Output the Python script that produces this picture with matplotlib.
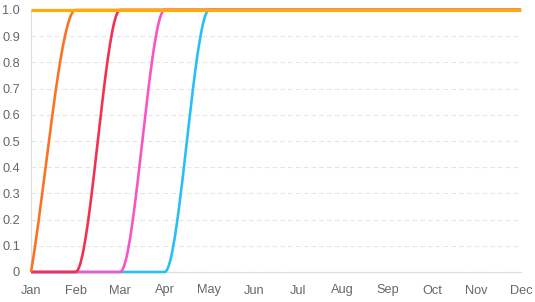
import numpy as np
import matplotlib.pyplot as plt

months = ["Jan", "Feb", "Mar", "Apr", "May", "Jun",
          "Jul", "Aug", "Sep", "Oct", "Nov", "Dec"]

# series, listed in drawing priority (first one ends up on top)
yellow = [1, 1, 1, 1, 1, 1, 1, 1, 1, 1, 1, 1]
orange = [0, 1, 1, 1, 1, 1, 1, 1, 1, 1, 1, 1]
red    = [0, 0, 1, 1, 1, 1, 1, 1, 1, 1, 1, 1]
pink   = [0, 0, 0, 1, 1, 1, 1, 1, 1, 1, 1, 1]
blue   = [0, 0, 0, 0, 1, 1, 1, 1, 1, 1, 1, 1]

series = [yellow, orange, red, pink, blue]
colors = ["#ffab00", "#f97325", "#f2304f", "#f754c6", "#29bdf9"]
widths = [3.0, 2.5, 2.5, 2.5, 2.5]


def monotone(y, n=40):
    # Fritsch-Carlson style monotone cubic, like chart.js 'monotone'
    y = np.asarray(y, float)
    d = np.diff(y)
    m = np.zeros(len(y))
    m[0] = d[0]
    m[-1] = d[-1]
    for i in range(1, len(y) - 1):
        if d[i - 1] == 0 or d[i] == 0 or np.sign(d[i - 1]) != np.sign(d[i]):
            m[i] = 0
        else:
            m[i] = (d[i - 1] + d[i]) / 2
    xs, ys = [], []
    for i in range(len(y) - 1):
        t = np.linspace(0, 1, n, endpoint=False)
        h00 = 2*t**3 - 3*t**2 + 1
        h10 = t**3 - 2*t**2 + t
        h01 = -2*t**3 + 3*t**2
        h11 = t**3 - t**2
        xs.append(i + t)
        ys.append(h00*y[i] + h10*m[i] + h01*y[i+1] + h11*m[i+1])
    xs.append([len(y) - 1])
    ys.append([y[-1]])
    return np.concatenate(xs), np.concatenate(ys)


plt.rcParams['font.family'] = ['Liberation Sans', 'DejaVu Sans']

fig = plt.figure(figsize=(5.35, 3.02), dpi=100)
ax = fig.add_axes([31/535, 30/302, 490/535, 262/302])

for k, (s, c, w) in enumerate(zip(series, colors, widths)):
    xx, yy = monotone(s)
    ax.plot(xx, yy, color=c, lw=w * 0.75, zorder=10 - k,
            solid_capstyle='butt', clip_on=False)

ax.set_xlim(0, 11)
ax.set_ylim(0, 1)
ax.set_xticks(range(12))
ax.set_xticklabels(months)
yt = np.round(np.arange(0, 1.01, 0.1), 1)
ax.set_yticks(yt)
ax.set_yticklabels(["0"] + [f"{v:.1f}" for v in yt[1:]])
ax.tick_params(length=0, labelsize=9.2, labelcolor="#666666")
ax.tick_params(axis='y', pad=8)
ax.tick_params(axis='x', pad=9)

ax.grid(axis='y', color="#e5e5e5", linestyle=(0, (4, 3)), lw=0.8)
ax.set_axisbelow(True)
for sp in ["top", "right"]:
    ax.spines[sp].set_visible(False)
for sp in ["left", "bottom"]:
    ax.spines[sp].set_color("#dddddd")
    ax.spines[sp].set_linewidth(0.8)

fig.savefig("out.png", dpi=100)
